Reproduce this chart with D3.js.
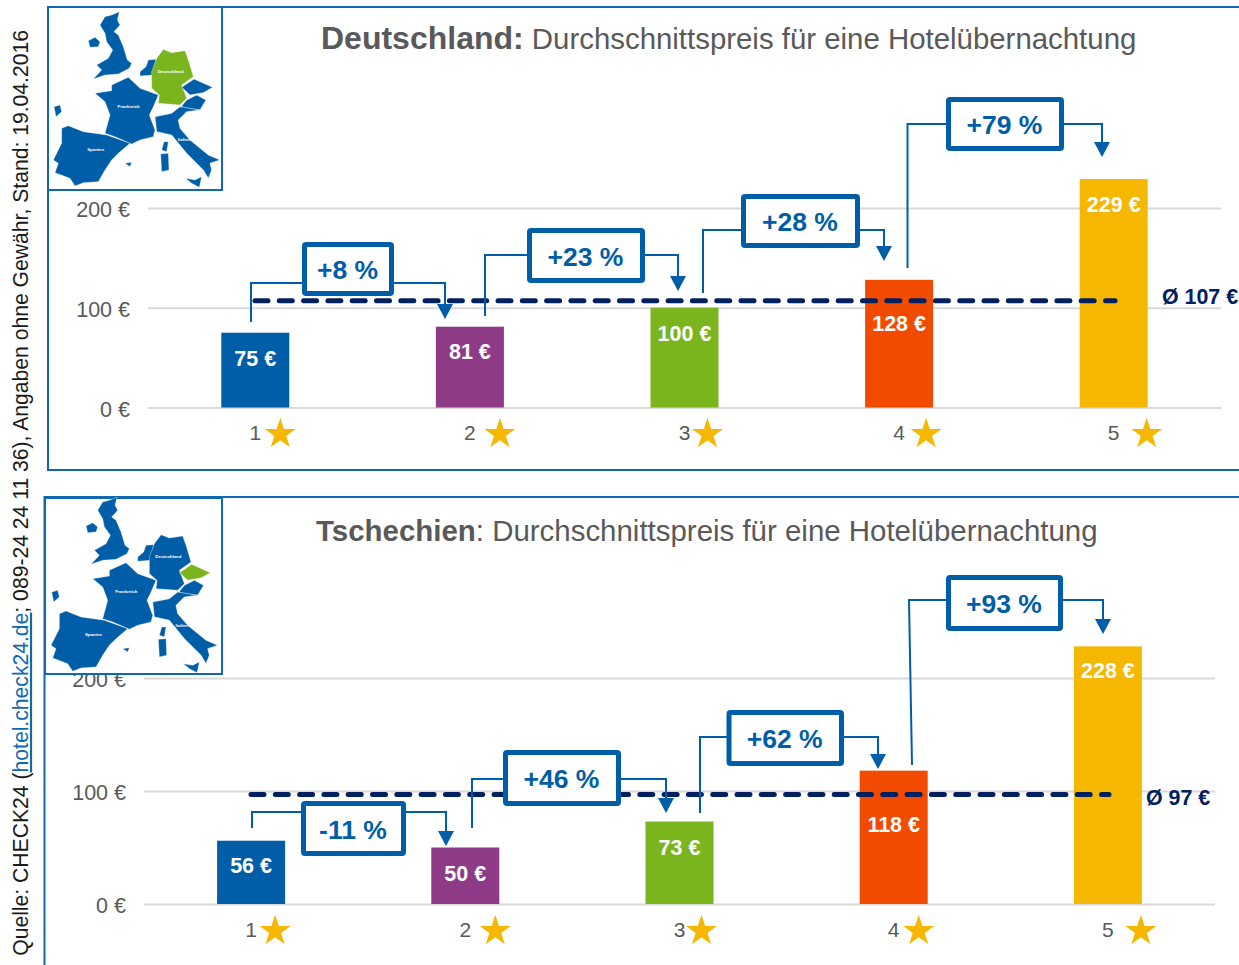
<!DOCTYPE html>
<html lang="de"><head><meta charset="utf-8">
<script src="https://cdn.jsdelivr.net/npm/d3@7"></script>
<style>
html,body{margin:0;padding:0;background:#fff;overflow:hidden}
svg{display:block;font-family:"Liberation Sans",Arial,sans-serif}
</style></head><body>
<svg id="c" width="1239" height="965"></svg>
<script>
const categories = ["1","2","3","4","5"];
const priceTicks = [0,100,200];
const germanyPrices = [75,81,100,128,229];
const czechPrices = [56,50,73,118,228];
const germanyAverage = 107;
const czechAverage = 97;
const germanyChanges = ["+8 %","+23 %","+28 %","+79 %"];
const czechChanges = ["-11 %","+46 %","+62 %","+93 %"];
const barColors = ["#005EA8","#8E3A87","#7AB51D","#F24B00","#F6B700"];

const BLUE="#005EA8", NAVY="#002060", GRAY="#595959", GRID="#D9D9D9", FRAME="#0F68B2";
const svg = d3.select("#c");

// layout of each panel
const panels = [
 {prices:germanyPrices, avg:germanyAverage, changes:germanyChanges,
  frame:[48,7,1300,463], map:[48,7,174,183], mapOrigin:[40,0], target:"de",
  x0:148,x1:1221, y0:407.5,yPerEuro:0.9975, labelDy:[26,25,26,44,26],
  starDx:[25,30,23,27,33], avgX:[255,1115], avgLabel:["Ø 107 €",1162,297],
  rowY:433, boxes:[
   {b:[302,242,394,296],cy:283,lx:[251,322],rx:445,tip:319},
   {b:[527,228,645,283],cy:255,lx:[485,316],rx:678,tip:291},
   {b:[741,194,860,248],cy:230,lx:[703,293],rx:884,tip:261},
   {b:[946,97,1064,151],cy:124,lx:[907.5,268],rx:1102,tip:157}],
  title:[{t:"Deutschland:",b:1},{t:" Durchschnittspreis für eine Hotelübernachtung"}], titleX:321,titleY:38, titleSize:29.4, boldSize:32},
 {prices:czechPrices, avg:czechAverage, changes:czechChanges,
  frame:[44.5,497,1300,600], map:[45,498,177,176], mapOrigin:[37.7,485.3], target:"cz",
  x0:144,x1:1215, y0:904,yPerEuro:1.13, labelDy:[25,26,26,54,25],
  starDx:[24,30,22,25,33], avgX:[251,1109], avgLabel:["Ø 97 €",1146,798],
  rowY:930, boxes:[
   {b:[301,801,406,856],cy:812,lx:[252,828],rx:446,tip:846},
   {b:[503,750,621,806],cy:779,lx:[472,828],rx:666,tip:813},
   {b:[726.5,710,844,766],cy:737,lx:[700,813],rx:878,tip:769},
   {b:[946,575,1063,631],cy:600,lx:[909,765],rx:1103,tip:634,slant:3}],
  title:[{t:"Tschechien",b:1},{t:": Durchschnittspreis für eine Hotelübernachtung"}], titleX:316,titleY:529.5, titleSize:29.45, boldSize:29.45}
];

// simplified outline of western Europe for the inset maps (inset pixel units x3)
const mapShapes = {
 uk:[[195,50],[215,45],[238,35],[232,60],[240,75],[222,95],[235,105],[250,140],[262,180],[275,190],[268,205],[235,222],[195,225],[160,237],[185,210],[170,195],[205,175],[218,150],[200,125],[195,100],[180,75]],
 ireland:[[145,122],[165,112],[180,125],[175,140],[150,142]],
 france:[[265,232],[300,265],[355,285],[340,320],[328,345],[345,390],[340,410],[300,420],[275,432],[225,410],[195,400],[210,345],[195,305],[165,280],[215,272],[215,255]],
 iberia:[[85,377],[130,395],[200,405],[270,430],[235,460],[215,480],[195,510],[175,545],[130,548],[105,558],[90,535],[45,518],[55,490],[40,480],[65,430],[65,385]],
 benelux:[[325,180],[348,178],[338,225],[300,228],[300,215],[318,200]],
 austria:[[425,318],[440,300],[470,285],[498,300],[480,330],[430,325]],
 italy:[[345,350],[395,340],[420,320],[480,330],[440,335],[415,360],[420,385],[450,420],[505,465],[540,480],[510,490],[515,510],[505,535],[490,510],[440,460],[395,405],[350,395]],
 sicily:[[437,535],[465,540],[485,530],[478,562],[455,550]],
 sardinia:[[362,462],[385,460],[387,510],[365,515]],
 corsica:[[372,425],[385,425],[380,455],[365,450]],
 balearic:[[255,490],[275,487],[270,500]],
 isle:[[42,320],[60,315],[65,335],[48,350]],
 de:[[370,148],[395,158],[435,152],[445,180],[460,230],[425,255],[440,295],[420,315],[355,310],[358,285],[335,265],[335,215],[350,175]],
 cz:[[425,262],[462,237],[518,262],[490,278],[450,285]]
};
const mapLabels = [["Deutschland",392,218],["Frankreich",266,323],["Spanien",167,452],["Italien",432,424]];

panels.forEach((p,pi)=>{
  const g = svg.append("g");
  const x = d3.scaleBand().domain(categories).range([p.x0,p.x1]).paddingInner(0).paddingOuter(0);
  const y = d3.scaleLinear().domain([0,200]).range([p.y0,p.y0-200*p.yPerEuro]);
  const bw = 68;
  const cx = c => x(c)+x.bandwidth()/2;

  g.append("rect").attr("x",p.frame[0]).attr("y",p.frame[1]).attr("width",p.frame[2]).attr("height",p.frame[3])
   .attr("fill","#fff").attr("stroke",FRAME).attr("stroke-width",2);

  const ya = g.append("g").attr("transform",`translate(${p.x0},0)`)
    .call(d3.axisLeft(y).tickValues(priceTicks).tickSize(-(p.x1-p.x0)).tickPadding(18).tickFormat(d=>d+" €"));
  ya.select(".domain").remove();
  ya.selectAll("line").attr("stroke",GRID).attr("stroke-width",2);
  ya.selectAll("text").attr("fill",GRAY).attr("font-size",21.5).attr("font-family","'Liberation Sans'").attr("dy","0.4em");

  const xa = g.append("g").attr("transform",`translate(0,${p.rowY-22})`)
    .call(d3.axisBottom(x).tickSize(0).tickPadding(14));
  xa.select(".domain").remove();
  xa.selectAll("text").attr("fill",GRAY).attr("font-size",21).attr("font-family","'Liberation Sans'").attr("dy","0.71em");

  const star = d3.symbol().type(d3.symbolStar).size(300);
  g.selectAll(".star").data(categories).join("path").attr("class","star")
   .attr("d",star).attr("fill","#F6B700")
   .attr("transform",(c,i)=>`translate(${cx(c)+p.starDx[i]},${p.rowY+1})`);

  g.selectAll(".bar").data(p.prices).join("rect").attr("class","bar")
   .attr("x",(v,i)=>cx(categories[i])-bw/2).attr("width",bw)
   .attr("y",v=>y(v)).attr("height",v=>y(0)-y(v))
   .attr("fill",(v,i)=>barColors[i]);

  g.selectAll(".val").data(p.prices).join("text").attr("class","val")
   .attr("x",(v,i)=>cx(categories[i])).attr("y",(v,i)=>y(v)+p.labelDy[i])
   .attr("text-anchor","middle").attr("dominant-baseline","central")
   .attr("fill","#fff").attr("font-weight","bold").attr("font-size",21.5).text(v=>v+" €");

  g.append("line").attr("x1",p.avgX[0]).attr("x2",p.avgX[1]).attr("y1",y(p.avg)).attr("y2",y(p.avg))
   .attr("stroke",NAVY).attr("stroke-width",5).attr("stroke-linecap","round").attr("stroke-dasharray","13 11.3");
  g.append("text").attr("x",p.avgLabel[1]).attr("y",p.avgLabel[2]).attr("dominant-baseline","central")
   .attr("fill",NAVY).attr("font-weight","bold").attr("font-size",21.4).text(p.avgLabel[0]);

  p.boxes.forEach((b,i)=>{
    const [x1,y1,x2,y2]=b.b;
    g.append("path").attr("fill","none").attr("stroke",BLUE).attr("stroke-width",2)
     .attr("d",d3.line()([[b.lx[0]+(b.slant||0),b.lx[1]],[b.lx[0],b.cy],[b.rx,b.cy],[b.rx,b.tip-10]]));
    g.append("path").attr("fill",BLUE)
     .attr("d",d3.line()([[b.rx-8,b.tip-15],[b.rx+8,b.tip-15],[b.rx,b.tip]])+"Z");
    g.append("rect").attr("x",x1+2.5).attr("y",y1+2.5).attr("width",x2-x1-5).attr("height",y2-y1-5).attr("rx",1.5)
     .attr("fill","#fff").attr("stroke",BLUE).attr("stroke-width",5);
    g.append("text").attr("x",(x1+x2)/2-0.5).attr("y",(y1+y2)/2+1).attr("text-anchor","middle").attr("dominant-baseline","central")
     .attr("fill",BLUE).attr("font-weight","bold").attr("font-size",26.5).text(p.changes[i]);
  });

  const t = g.append("text").attr("x",p.titleX).attr("y",p.titleY).attr("dominant-baseline","central").attr("fill",GRAY).attr("font-size",p.titleSize);
  p.title.forEach(s=>t.append("tspan").style("white-space","pre")
    .attr("font-weight",s.b?"bold":"normal").attr("font-size",s.b?p.boldSize:p.titleSize).text(s.t));

  const m = g.append("g");
  m.append("rect").attr("x",p.map[0]).attr("y",p.map[1]).attr("width",p.map[2]).attr("height",p.map[3])
   .attr("fill","#fff").attr("stroke",FRAME).attr("stroke-width",2);
  const mg = m.append("g").attr("transform",`translate(${p.mapOrigin[0]},${p.mapOrigin[1]}) scale(${1/3})`);
  const line = d3.line().curve(d3.curveLinearClosed);
  Object.entries(mapShapes).forEach(([k,pts])=>{
    mg.append("path").attr("d",line(pts)).attr("fill",k===p.target?"#7AB51D":BLUE)
      .attr("stroke","#fff").attr("stroke-width",k==="cz"||k==="austria"||k==="italy"?1.5:1);
  });
  mg.selectAll(".ml").data(mapLabels).join("text").attr("class","ml")
    .attr("x",d=>d[1]).attr("y",d=>d[2]).attr("text-anchor","middle").attr("fill","#fff")
    .attr("font-size",13).attr("font-weight","bold").text(d=>d[0]);
});

const note = svg.append("text").attr("transform","translate(28,30) rotate(-90)").attr("text-anchor","end")
  .attr("fill","#1a1a1a").attr("font-size",21.15);
note.append("tspan").text("Quelle: CHECK24 (");
note.append("tspan").attr("fill","#0F68B2").attr("text-decoration","underline").text("hotel.check24.de");
note.append("tspan").text("; 089-24 24 11 36), Angaben ohne Gewähr, Stand: 19.04.2016");
</script>
</body></html>
